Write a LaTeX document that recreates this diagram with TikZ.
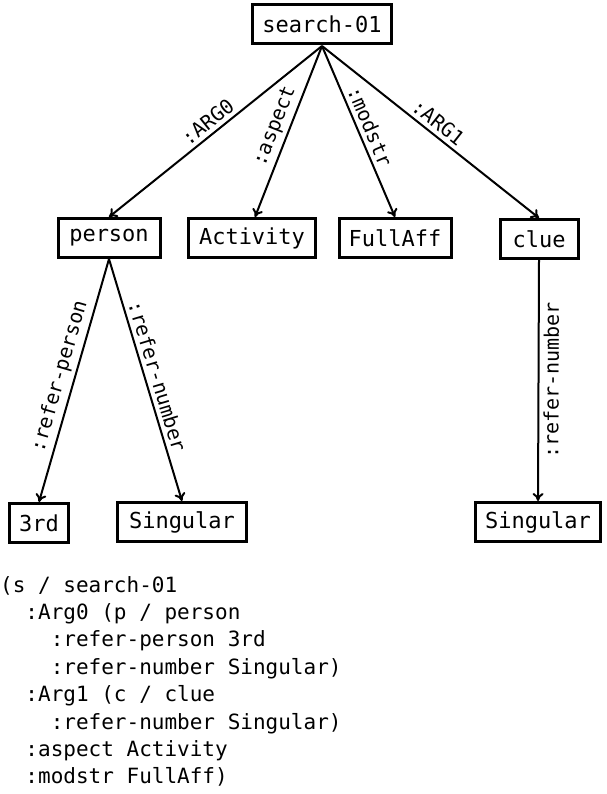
\documentclass[tikz,border=0pt]{standalone}
\usepackage{fontspec}
\setmonofont{DejaVu Sans Mono}
\usetikzlibrary{arrows.meta}
\begin{document}
\begin{tikzpicture}[x=1pt,y=-1pt,
  box/.style={draw,line width=3pt,font=\ttfamily\fontsize{22}{22}\selectfont,inner sep=0pt,minimum height=39pt},
  edge/.style={-{To[length=8pt,width=11pt]},line width=2pt},
  lab/.style={font=\ttfamily\fontsize{20}{20}\selectfont,sloped,midway,inner sep=4pt}]
\useasboundingbox (0,0) rectangle (606,794);
\node[box,minimum width=139pt] (s) at (322,24) {search-01};
\node[box,minimum width=102pt] (p) at (109,238) {person};
\node[box,minimum width=127pt] (a) at (252,238) {Activity};
\node[box,minimum width=112pt] (f) at (395,238) {FullAff};
\node[box,minimum width=78pt] (c) at (539,239) {clue};
\node[box,minimum width=59pt] (t) at (39,523) {3rd};
\node[box,minimum width=129pt] (n1) at (182,522) {Singular};
\node[box,minimum width=125pt] (n2) at (538,522) {Singular};
\coordinate (o) at (322,46);
\draw[edge] (o) -- (p.north) node[lab,above] {:ARG0};
\draw[edge] (o) -- (a.north -| 255,0) node[lab,above] {:aspect};
\draw[edge] (o) -- (f.north) node[lab,above] {:modstr};
\draw[edge] (o) -- (c.north) node[lab,above] {:ARG1};
\draw[edge] (p.south) -- (t.north) node[lab,above] {:refer-person};
\draw[edge] (p.south) -- (n1.north) node[lab,above] {:refer-number};
\draw[edge] (c.south) -- (n2.north) node[lab,below] {:refer-number};
\node[anchor=north west,align=left,inner sep=0pt,font=\ttfamily\fontsize{21}{27.4}\selectfont] (code) at (0,576) {(s / search-01\\
\ \ :Arg0 (p / person\\
\ \ \ \ :refer-person 3rd\\
\ \ \ \ :refer-number Singular)\\
\ \ :Arg1 (c / clue\\
\ \ \ \ :refer-number Singular)\\
\ \ :aspect Activity\\
\ \ :modstr FullAff)};
\end{tikzpicture}
\end{document}
